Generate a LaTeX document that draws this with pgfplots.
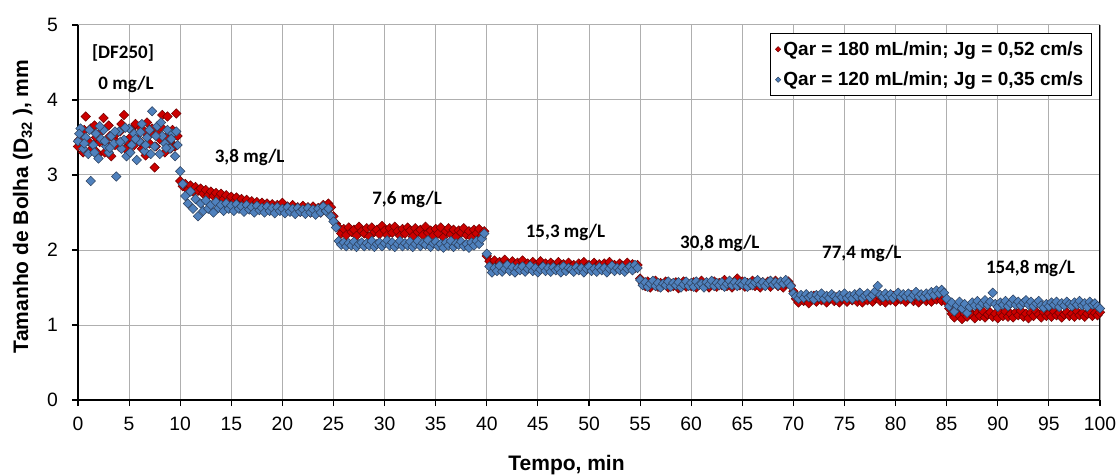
\documentclass[border=0pt]{standalone}
\usepackage{pgfplots}
\pgfplotsset{compat=1.18}
\usepackage{fontspec}
\setmainfont{Liberation Sans}
\newfontfamily\calibri{Carlito}
\definecolor{redfill}{RGB}{204,0,0}
\definecolor{redline}{RGB}{110,0,0}
\definecolor{bluefill}{RGB}{79,129,189}
\definecolor{blueline}{RGB}{45,65,95}
\definecolor{gridc}{RGB}{175,175,175}
\begin{document}
\begin{tikzpicture}
\begin{axis}[
 scale only axis, width=766.5pt, height=281.25pt,
 xmin=0, xmax=100, ymin=0, ymax=5,
 xtick={0,5,...,100}, ytick={0,1,...,5},
 axis x line*=bottom, axis y line*=left,
 axis line style={-, black, line width=1pt},
 tick align=outside, major tick length=4.5pt, tick style={black, line width=0.8pt},
 grid=major, grid style={gridc, line width=0.75pt},
 ticklabel style={font=\fontsize{14.5}{17}\selectfont},
 xticklabel style={yshift=-5pt},
 yticklabel style={xshift=-7pt},
 /pgf/number format/assume math mode=true,
 xlabel={Tempo, min},
 ylabel={Tamanho de Bolha (D\textsubscript{32} ), mm},
 label style={font=\fontsize{15.75}{18}\selectfont\bfseries},
 xlabel style={at={(axis description cs:0.478,-0.173)}, anchor=center},
 ylabel style={at={(axis description cs:-0.054,0.516)}, anchor=center},
 legend style={at={(0.992,0.979)}, anchor=north east, draw=black, line width=0.75pt,
   font=\fontsize{14.25}{17}\selectfont\bfseries, row sep=7pt, inner sep=4pt},
 legend cell align=left,
 legend image code/.code={\draw[#1, mark size=1.4pt] plot coordinates {(0.05cm,0cm)};},
]
\addplot[only marks, mark=square*, mark size=2.5pt, mark options={rotate=45, fill=redfill, draw=redline, line width=0.4pt}] coordinates {
(0,3.38)(0.25,3.55)(0.5,3.30)(0.75,3.78)(1,3.45)(1.25,3.62)(1.5,3.35)(1.75,3.50)(2,3.28)(2.25,3.58)(2.5,3.76)(2.75,3.42)(3,3.66)(3.25,3.25)(3.5,3.48)(3.75,3.55)(4,3.38)(4.25,3.68)(4.5,3.80)(4.75,3.45)(5,3.32)(5.25,3.60)(5.5,3.40)(5.75,3.52)(6,3.65)(6.25,3.35)(6.5,3.58)(6.75,3.70)(7,3.42)(7.25,3.62)(7.5,3.10)(7.75,3.55)(8,3.48)(8.25,3.80)(8.5,3.30)(8.75,3.78)(9,3.45)(9.25,3.60)(9.5,3.38)(9.75,3.52)
(0.12,3.47)(0.62,3.60)(1.12,3.32)(1.62,3.66)(2.12,3.44)(2.62,3.30)(3.12,3.52)(3.62,3.40)(4.12,3.58)(4.62,3.35)(5.12,3.50)(5.62,3.68)(6.12,3.44)(6.62,3.26)(7.12,3.55)(7.62,3.38)(8.12,3.64)(8.62,3.50)(9.12,3.36)(9.62,3.82)
(10,2.92)(10.25,2.85)(10.5,2.88)(10.75,2.80)(11,2.86)(11.25,2.78)(11.5,2.84)(11.75,2.79)(12,2.82)(12.25,2.75)(12.5,2.80)(12.75,2.73)(13,2.78)(13.25,2.72)(13.5,2.76)(13.75,2.70)(14,2.75)(14.25,2.68)(14.5,2.73)(14.75,2.66)(15,2.71)(15.25,2.64)(15.5,2.70)(15.75,2.63)(16,2.68)(16.25,2.62)(16.5,2.67)(16.75,2.60)(17,2.65)(17.25,2.59)(17.5,2.64)(17.75,2.58)(18,2.63)(18.25,2.57)(18.5,2.62)(18.75,2.56)(19,2.61)(19.25,2.55)(19.5,2.60)(19.75,2.54)(20,2.63)(20.25,2.55)(20.5,2.58)(20.75,2.52)(21,2.60)(21.25,2.54)(21.5,2.57)(21.75,2.51)(22,2.59)(22.25,2.53)(22.5,2.57)(22.75,2.50)(23,2.58)(23.25,2.53)(23.5,2.56)(23.75,2.50)(24,2.60)(24.25,2.55)(24.5,2.62)(24.75,2.57)
(25,2.45)(25.25,2.35)(25.5,2.30)(25.75,2.22)(26,2.28)(26.25,2.20)(26.5,2.30)(26.75,2.24)(27,2.27)(27.25,2.19)(27.5,2.31)(27.75,2.25)(28,2.22)(28.25,2.29)(28.5,2.18)(28.75,2.30)(29,2.24)(29.25,2.27)(29.5,2.21)(29.75,2.32)(30,2.26)(30.25,2.20)(30.5,2.29)(30.75,2.23)(31,2.31)(31.25,2.25)(31.5,2.19)(31.75,2.28)(32,2.22)(32.25,2.30)(32.5,2.26)(32.75,2.18)(33,2.29)(33.25,2.24)(33.5,2.27)(33.75,2.20)(34,2.31)(34.25,2.23)(34.5,2.26)(34.75,2.19)(35,2.28)(35.25,2.22)(35.5,2.30)(35.75,2.17)(36,2.25)(36.25,2.29)(36.5,2.21)(36.75,2.27)(37,2.18)(37.25,2.26)(37.5,2.23)(37.75,2.29)(38,2.20)(38.25,2.25)(38.5,2.17)(38.75,2.27)(39,2.22)(39.25,2.28)(39.5,2.19)(39.75,2.25)
(40,1.92)(40.25,1.85)(40.5,1.80)(40.75,1.86)(41,1.78)(41.25,1.84)(41.5,1.79)(41.75,1.87)(42,1.81)(42.25,1.76)(42.5,1.85)(42.75,1.80)(43,1.83)(43.25,1.77)(43.5,1.86)(43.75,1.79)(44,1.82)(44.25,1.76)(44.5,1.84)(44.75,1.80)(45,1.78)(45.25,1.85)(45.5,1.79)(45.75,1.82)(46,1.76)(46.25,1.83)(46.5,1.80)(46.75,1.77)(47,1.84)(47.25,1.79)(47.5,1.81)(47.75,1.76)(48,1.83)(48.25,1.78)(48.5,1.80)(48.75,1.75)(49,1.82)(49.25,1.79)(49.5,1.84)(49.75,1.77)(50,1.80)(50.25,1.76)(50.5,1.83)(50.75,1.79)(51,1.81)(51.25,1.75)(51.5,1.82)(51.75,1.78)(52,1.84)(52.25,1.77)(52.5,1.80)(52.75,1.76)(53,1.82)(53.25,1.79)(53.5,1.77)(53.75,1.83)(54,1.78)(54.25,1.81)(54.5,1.76)(54.75,1.80)
(55,1.62)(55.25,1.56)(55.5,1.52)(55.75,1.58)(56,1.50)(56.25,1.55)(56.5,1.59)(56.75,1.51)(57,1.56)(57.25,1.53)(57.5,1.58)(57.75,1.50)(58,1.55)(58.25,1.52)(58.5,1.57)(58.75,1.49)(59,1.54)(59.25,1.58)(59.5,1.51)(59.75,1.55)(60,1.52)(60.25,1.57)(60.5,1.50)(60.75,1.55)(61,1.59)(61.25,1.52)(61.5,1.56)(61.75,1.50)(62,1.54)(62.25,1.58)(62.5,1.51)(62.75,1.56)(63,1.53)(63.25,1.60)(63.5,1.52)(63.75,1.57)(64,1.50)(64.25,1.55)(64.5,1.62)(64.75,1.53)(65,1.58)(65.25,1.51)(65.5,1.56)(65.75,1.53)(66,1.59)(66.25,1.52)(66.5,1.55)(66.75,1.50)(67,1.57)(67.25,1.53)(67.5,1.58)(67.75,1.51)(68,1.55)(68.25,1.59)(68.5,1.52)(68.75,1.56)(69,1.50)(69.25,1.55)(69.5,1.58)(69.75,1.53)
(70,1.45)(70.25,1.35)(70.5,1.30)(70.75,1.38)(71,1.32)(71.25,1.36)(71.5,1.29)(71.75,1.35)(72,1.39)(72.25,1.31)(72.5,1.36)(72.75,1.33)(73,1.38)(73.25,1.30)(73.5,1.35)(73.75,1.40)(74,1.32)(74.25,1.37)(74.5,1.30)(74.75,1.35)(75,1.38)(75.25,1.31)(75.5,1.36)(75.75,1.33)(76,1.39)(76.25,1.31)(76.5,1.35)(76.75,1.30)(77,1.37)(77.25,1.33)(77.5,1.38)(77.75,1.31)(78,1.36)(78.25,1.40)(78.5,1.32)(78.75,1.35)(79,1.30)(79.25,1.37)(79.5,1.33)(79.75,1.39)(80,1.31)(80.25,1.36)(80.5,1.34)(80.75,1.38)(81,1.31)(81.25,1.35)(81.5,1.40)(81.75,1.32)(82,1.37)(82.25,1.30)(82.5,1.35)(82.75,1.38)(83,1.32)(83.25,1.36)(83.5,1.31)(83.75,1.39)(84,1.34)(84.25,1.37)(84.5,1.32)(84.75,1.38)
(85,1.30)(85.25,1.22)(85.5,1.15)(85.75,1.10)(86,1.17)(86.25,1.12)(86.5,1.08)(86.75,1.15)(87,1.11)(87.25,1.18)(87.5,1.13)(87.75,1.09)(88,1.16)(88.25,1.12)(88.5,1.19)(88.75,1.10)(89,1.14)(89.25,1.17)(89.5,1.11)(89.75,1.15)(90,1.09)(90.25,1.16)(90.5,1.12)(90.75,1.18)(91,1.11)(91.25,1.15)(91.5,1.10)(91.75,1.17)(92,1.13)(92.25,1.19)(92.5,1.11)(92.75,1.15)(93,1.09)(93.25,1.16)(93.5,1.12)(93.75,1.18)(94,1.14)(94.25,1.10)(94.5,1.17)(94.75,1.12)(95,1.15)(95.25,1.11)(95.5,1.18)(95.75,1.13)(96,1.16)(96.25,1.10)(96.5,1.14)(96.75,1.17)(97,1.12)(97.25,1.15)(97.5,1.11)(97.75,1.18)(98,1.13)(98.25,1.16)(98.5,1.11)(98.75,1.15)(99,1.19)(99.25,1.12)(99.5,1.16)(99.75,1.13)(100,1.17)
};
\addlegendentry{Qar = 180 mL/min; Jg = 0,52 cm/s}
\addplot[only marks, mark=square*, mark size=2.5pt, mark options={rotate=45, fill=bluefill, draw=blueline, line width=0.4pt}] coordinates {
(0,3.45)(0.25,3.62)(0.5,3.35)(0.75,3.50)(1,3.28)(1.25,2.92)(1.5,3.40)(1.75,3.55)(2,3.22)(2.25,3.48)(2.5,3.60)(2.75,3.38)(3,3.30)(3.25,3.52)(3.5,3.42)(3.75,2.98)(4,3.58)(4.25,3.35)(4.5,3.47)(4.75,3.25)(5,3.62)(5.25,3.40)(5.5,3.55)(5.75,3.20)(6,3.45)(6.25,3.68)(6.5,3.32)(6.75,3.50)(7,3.60)(7.25,3.85)(7.5,3.38)(7.75,3.65)(8,3.28)(8.25,3.52)(8.5,3.42)(8.75,3.60)(9,3.35)(9.25,3.55)(9.5,3.25)(9.75,3.40)
(0.12,3.55)(0.62,3.42)(1.12,3.60)(1.62,3.30)(2.12,3.65)(2.62,3.45)(3.12,3.36)(3.62,3.58)(4.12,3.44)(4.62,3.63)(5.12,3.30)(5.62,3.48)(6.12,3.57)(6.62,3.40)(7.12,3.28)(7.62,3.52)(8.12,3.70)(8.62,3.36)(9.12,3.48)(9.62,3.58)
(10,3.05)(10.25,2.88)(10.5,2.72)(10.75,2.62)(11,2.78)(11.25,2.55)(11.5,2.68)(11.75,2.45)(12,2.62)(12.25,2.52)(12.5,2.66)(12.75,2.55)(13,2.60)(13.25,2.50)(13.5,2.64)(13.75,2.56)(14,2.60)(14.25,2.52)(14.5,2.62)(14.75,2.55)(15,2.59)(15.25,2.52)(15.5,2.61)(15.75,2.55)(16,2.58)(16.25,2.51)(16.5,2.60)(16.75,2.54)(17,2.57)(17.25,2.50)(17.5,2.59)(17.75,2.53)(18,2.56)(18.25,2.50)(18.5,2.58)(18.75,2.52)(19,2.56)(19.25,2.49)(19.5,2.57)(19.75,2.52)(20,2.55)(20.25,2.49)(20.5,2.57)(20.75,2.51)(21,2.55)(21.25,2.48)(21.5,2.56)(21.75,2.51)(22,2.54)(22.25,2.48)(22.5,2.56)(22.75,2.50)(23,2.54)(23.25,2.47)(23.5,2.55)(23.75,2.50)(24,2.58)(24.25,2.52)(24.5,2.55)(24.75,2.45)
(25,2.38)(25.25,2.30)(25.5,2.12)(25.75,2.07)(26,2.10)(26.25,2.05)(26.5,2.09)(26.75,2.06)(27,2.11)(27.25,2.04)(27.5,2.08)(27.75,2.10)(28,2.05)(28.25,2.09)(28.5,2.06)(28.75,2.12)(29,2.04)(29.25,2.08)(29.5,2.10)(29.75,2.05)(30,2.09)(30.25,2.13)(30.5,2.06)(30.75,2.10)(31,2.04)(31.25,2.08)(31.5,2.12)(31.75,2.05)(32,2.09)(32.25,2.06)(32.5,2.11)(32.75,2.04)(33,2.08)(33.25,2.12)(33.5,2.05)(33.75,2.09)(34,2.07)(34.25,2.13)(34.5,2.04)(34.75,2.09)(35,2.11)(35.25,2.05)(35.5,2.08)(35.75,2.03)(36,2.10)(36.25,2.06)(36.5,2.12)(36.75,2.04)(37,2.09)(37.25,2.07)(37.5,2.11)(37.75,2.05)(38,2.08)(38.25,2.03)(38.5,2.10)(38.75,2.06)(39,2.12)(39.25,2.08)(39.5,2.15)(39.75,2.22)
(40,1.95)(40.25,1.78)(40.5,1.70)(40.75,1.76)(41,1.72)(41.25,1.79)(41.5,1.71)(41.75,1.75)(42,1.80)(42.25,1.72)(42.5,1.77)(42.75,1.70)(43,1.76)(43.25,1.73)(43.5,1.78)(43.75,1.71)(44,1.75)(44.25,1.79)(44.5,1.72)(44.75,1.76)(45,1.70)(45.25,1.74)(45.5,1.78)(45.75,1.72)(46,1.76)(46.25,1.71)(46.5,1.77)(46.75,1.73)(47,1.75)(47.25,1.70)(47.5,1.78)(47.75,1.72)(48,1.76)(48.25,1.74)(48.5,1.71)(48.75,1.77)(49,1.73)(49.25,1.76)(49.5,1.70)(49.75,1.75)(50,1.78)(50.25,1.72)(50.5,1.75)(50.75,1.71)(51,1.77)(51.25,1.73)(51.5,1.76)(51.75,1.70)(52,1.75)(52.25,1.79)(52.5,1.72)(52.75,1.76)(53,1.73)(53.25,1.77)(53.5,1.71)(53.75,1.75)(54,1.78)(54.25,1.73)(54.5,1.80)(54.75,1.76)
(55,1.60)(55.25,1.53)(55.5,1.57)(55.75,1.51)(56,1.55)(56.25,1.59)(56.5,1.52)(56.75,1.56)(57,1.50)(57.25,1.55)(57.5,1.53)(57.75,1.58)(58,1.51)(58.25,1.56)(58.5,1.53)(58.75,1.57)(59,1.50)(59.25,1.54)(59.5,1.58)(59.75,1.52)(60,1.56)(60.25,1.51)(60.5,1.58)(60.75,1.53)(61,1.55)(61.25,1.50)(61.5,1.57)(61.75,1.54)(62,1.59)(62.25,1.52)(62.5,1.56)(62.75,1.53)(63,1.57)(63.25,1.51)(63.5,1.55)(63.75,1.59)(64,1.53)(64.25,1.57)(64.5,1.52)(64.75,1.56)(65,1.54)(65.25,1.58)(65.5,1.51)(65.75,1.56)(66,1.53)(66.25,1.57)(66.5,1.60)(66.75,1.54)(67,1.57)(67.25,1.52)(67.5,1.56)(67.75,1.59)(68,1.54)(68.25,1.57)(68.5,1.53)(68.75,1.58)(69,1.55)(69.25,1.60)(69.5,1.56)(69.75,1.52)
(70,1.42)(70.25,1.38)(70.5,1.35)(70.75,1.40)(71,1.36)(71.25,1.41)(71.5,1.37)(71.75,1.39)(72,1.34)(72.25,1.40)(72.5,1.37)(72.75,1.42)(73,1.35)(73.25,1.39)(73.5,1.36)(73.75,1.41)(74,1.38)(74.25,1.35)(74.5,1.40)(74.75,1.37)(75,1.42)(75.25,1.36)(75.5,1.39)(75.75,1.35)(76,1.41)(76.25,1.38)(76.5,1.43)(76.75,1.36)(77,1.39)(77.25,1.42)(77.5,1.37)(77.75,1.40)(78,1.45)(78.25,1.52)(78.5,1.40)(78.75,1.37)(79,1.42)(79.25,1.38)(79.5,1.41)(79.75,1.36)(80,1.40)(80.25,1.43)(80.5,1.37)(80.75,1.41)(81,1.38)(81.25,1.42)(81.5,1.36)(81.75,1.40)(82,1.44)(82.25,1.38)(82.5,1.41)(82.75,1.37)(83,1.42)(83.25,1.39)(83.5,1.44)(83.75,1.40)(84,1.46)(84.25,1.42)(84.5,1.47)(84.75,1.43)
(85,1.35)(85.25,1.25)(85.5,1.30)(85.75,1.18)(86,1.26)(86.25,1.31)(86.5,1.22)(86.75,1.28)(87,1.16)(87.25,1.24)(87.5,1.30)(87.75,1.26)(88,1.32)(88.25,1.25)(88.5,1.29)(88.75,1.33)(89,1.27)(89.25,1.31)(89.5,1.43)(89.75,1.28)(90,1.24)(90.25,1.30)(90.5,1.27)(90.75,1.32)(91,1.25)(91.25,1.29)(91.5,1.34)(91.75,1.27)(92,1.31)(92.25,1.26)(92.5,1.30)(92.75,1.33)(93,1.27)(93.25,1.31)(93.5,1.25)(93.75,1.29)(94,1.32)(94.25,1.26)(94.5,1.23)(94.75,1.28)(95,1.25)(95.25,1.30)(95.5,1.27)(95.75,1.31)(96,1.24)(96.25,1.29)(96.5,1.26)(96.75,1.31)(97,1.28)(97.25,1.25)(97.5,1.30)(97.75,1.27)(98,1.32)(98.25,1.26)(98.5,1.29)(98.75,1.24)(99,1.31)(99.25,1.27)(99.5,1.29)(99.75,1.25)(100,1.22)
};
\addlegendentry{Qar = 120 mL/min; Jg = 0,35 cm/s}
\begin{scope}[every node/.style={font=\calibri\bfseries\fontsize{14.25}{17}\selectfont}]
\node at (axis cs:4.4,4.63) {[DF250]};
\node at (axis cs:4.7,4.21) {0 mg/L};
\node at (axis cs:16.8,3.23) {3,8 mg/L};
\node at (axis cs:32.2,2.67) {7,6 mg/L};
\node at (axis cs:47.7,2.23) {15,3 mg/L};
\node at (axis cs:62.8,2.09) {30,8 mg/L};
\node at (axis cs:76.7,1.96) {77,4 mg/L};
\node at (axis cs:93.2,1.76) {154,8 mg/L};
\end{scope}
\draw[black, line width=1pt] (rel axis cs:1,0) -- (rel axis cs:1,1);
\coordinate (bl) at (rel axis cs:0,0);
\coordinate (tr) at (rel axis cs:1,1);
\end{axis}
\path (bl) ++(-58.5pt,-56.25pt) coordinate (A);
\path (tr) ++(12.75pt,18.75pt) coordinate (B);
\pgfresetboundingbox
\useasboundingbox (A) rectangle (B);
\end{tikzpicture}
\end{document}
